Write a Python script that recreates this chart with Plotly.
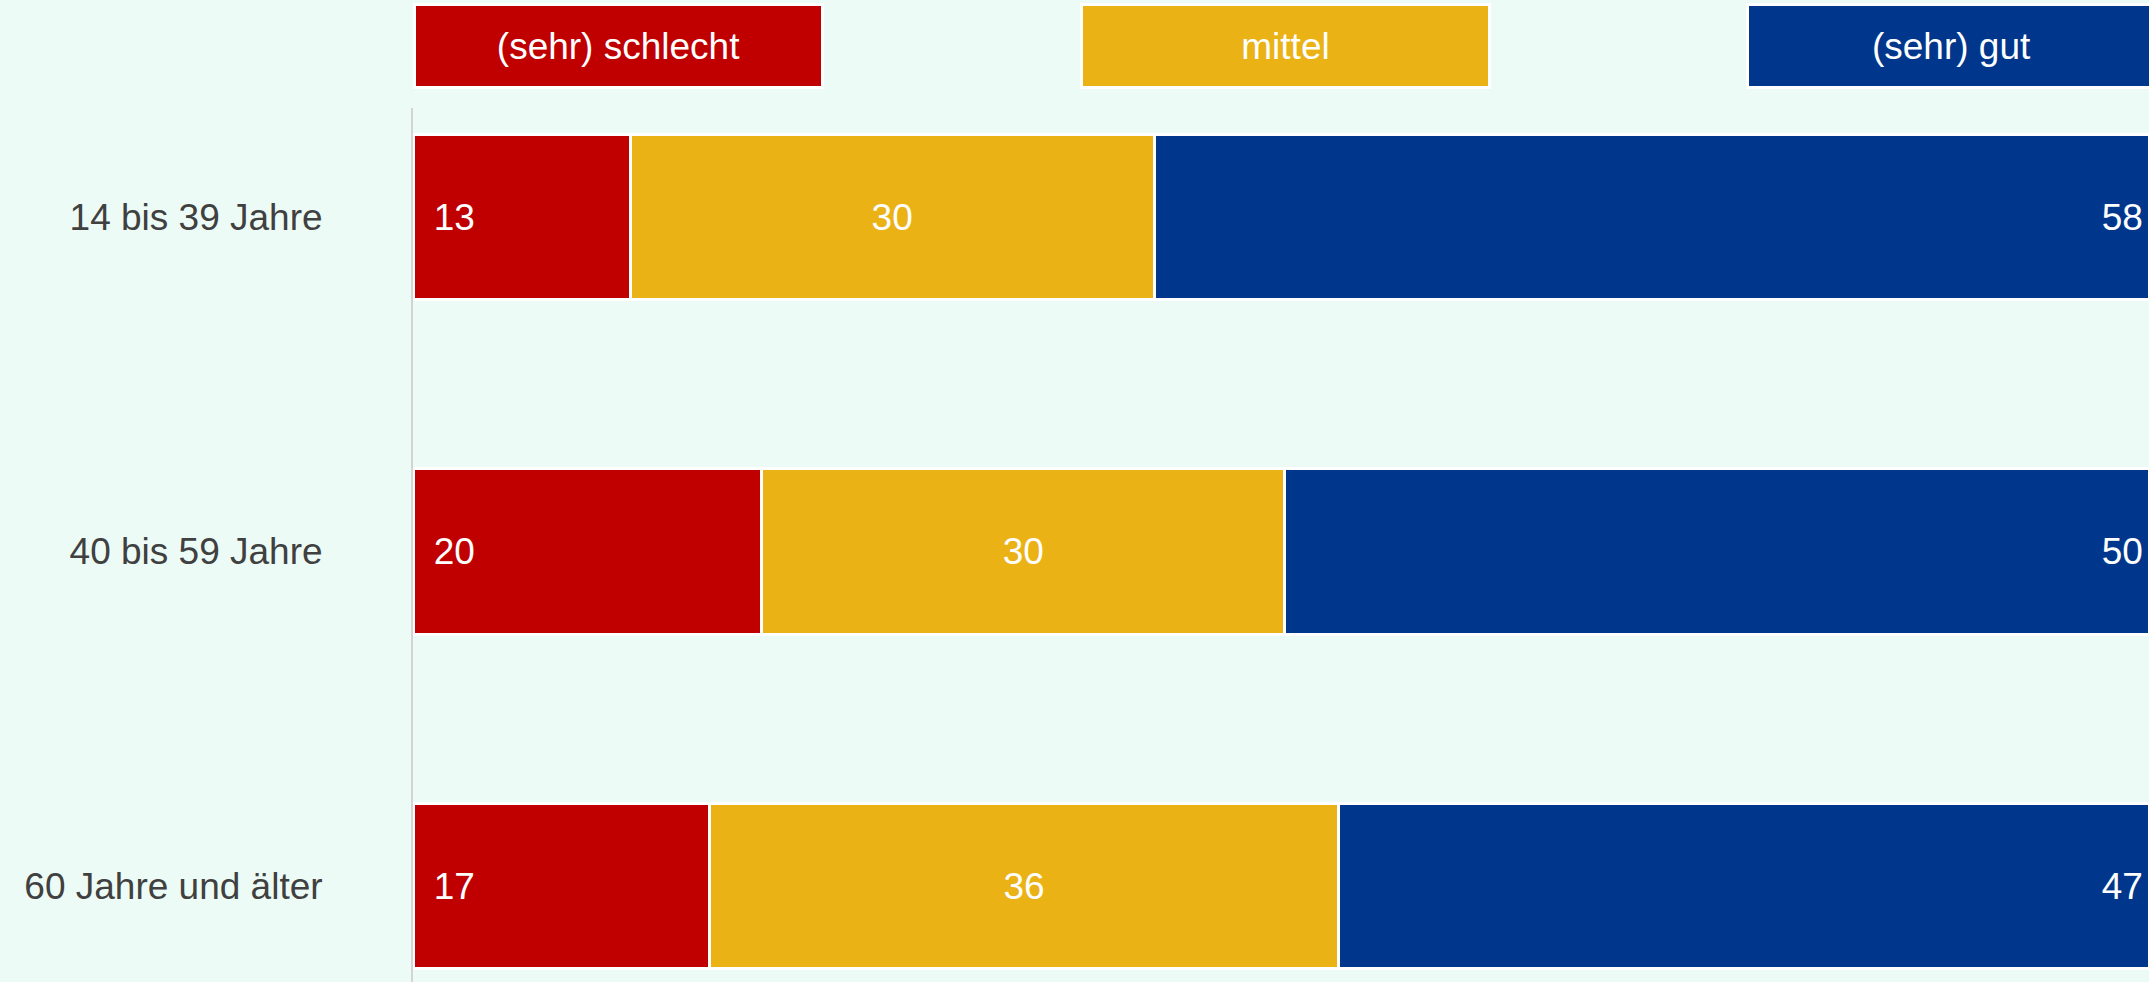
import plotly.graph_objects as go

# ---- data ----
categories = ["14 bis 39 Jahre", "40 bis 59 Jahre", "60 Jahre und älter"]
series_names = ["(sehr) schlecht", "mittel", "(sehr) gut"]
# bar lengths
schlecht = [12.5, 20.1, 17.1]
mittel = [30.2, 30.1, 36.2]
gut = [57.3, 49.8, 46.7]
# printed labels
schlecht_lbl = [13, 20, 17]
mittel_lbl = [30, 30, 36]
gut_lbl = [58, 50, 47]

colors = ["#c00000", "#eab214", "#00378c"]
anchors = ["start", "middle", "end"]
templates = [" \u2009%{text}", "%{text}", "%{text}\u200a"]
FONT = "Liberation Sans, Arial, sans-serif"
BG = "#ecfbf5"

fig = go.Figure()
for name, vals, lbls, col, anc, tpl in zip(series_names, [schlecht, mittel, gut],
                                           [schlecht_lbl, mittel_lbl, gut_lbl],
                                           colors, anchors, templates):
    fig.add_trace(go.Bar(
        y=categories, x=vals, orientation="h", name=name,
        marker=dict(color=col, line=dict(color="white", width=3)),
        text=lbls, texttemplate=tpl, textposition="inside", insidetextanchor=anc,
        textfont=dict(family=FONT, size=37, color="white"),
        hoverinfo="skip", showlegend=False,
    ))

# custom legend boxes
legend_x = [0.0, 0.384, 0.768]
for name, col, lx in zip(series_names, colors, legend_x):
    fig.add_annotation(
        xref="paper", yref="paper", x=lx, y=1.0709, xanchor="left", yanchor="middle",
        text=name, showarrow=False, width=405, height=80,
        bgcolor=col, bordercolor="white", borderwidth=3, borderpad=0,
        font=dict(family=FONT, size=37, color="white"),
    )

fig.update_layout(
    width=2149, height=982,
    barmode="stack", bargap=0.505,
    margin=dict(l=413, r=0, t=108, b=0, pad=0),
    paper_bgcolor=BG, plot_bgcolor=BG,
    font=dict(family=FONT, size=37, color="#404040"),
)
fig.update_xaxes(range=[0, 100], visible=False, showgrid=False, zeroline=False)
fig.update_yaxes(
    range=[2.287, -0.326], showgrid=False, zeroline=False,
    showline=True, linecolor="#d4d4d4", linewidth=2,
    ticks="", ticklabelstandoff=81,
    tickfont=dict(family=FONT, size=37, color="#404040"),
)

fig.write_html(
    "out.html",
    config={"displayModeBar": False},
    post_script="document.body.style.margin='0';document.body.style.overflow='hidden';",
)
